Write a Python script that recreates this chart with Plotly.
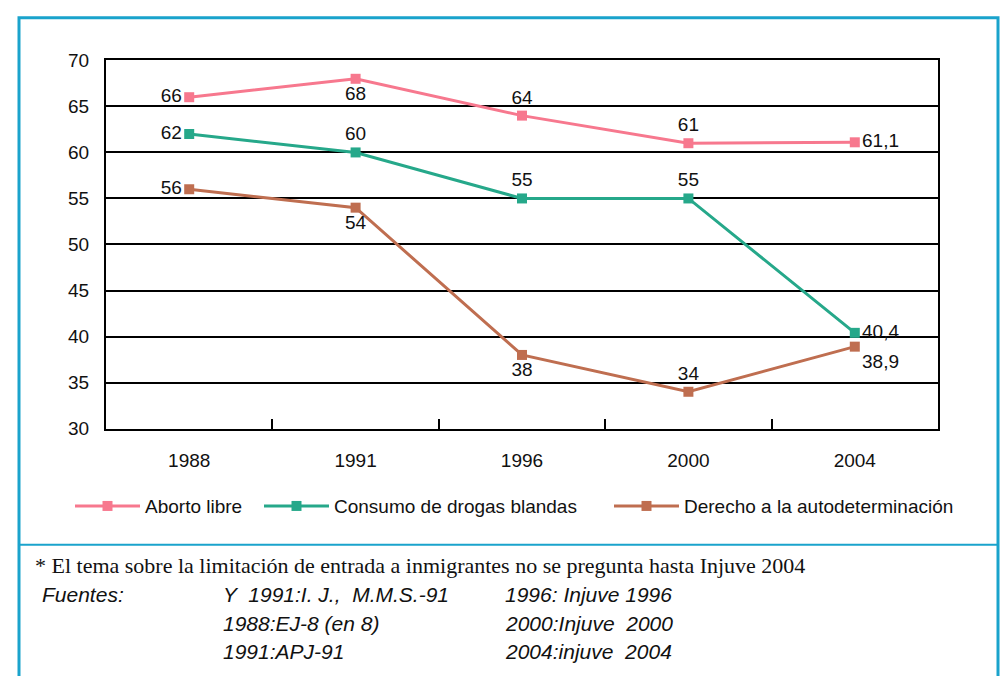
import plotly.graph_objects as go

years = ["1988", "1991", "1996", "2000", "2004"]
aborto = [66, 68, 64, 61, 61.1]
consumo = [62, 60, 55, 55, 40.4]
derecho = [56, 54, 38, 34, 38.9]
names = ["Aborto libre", "Consumo de drogas blandas", "Derecho a la autodeterminación"]
colors = ["#f7788e", "#26a88a", "#bf6e50"]
positions = [
    ["middle left", "bottom center", "top center", "top center", "middle right"],
    ["middle left", "top center", "top center", "top center", "middle right"],
    ["middle left", "bottom center", "bottom center", "top center", "bottom right"],
]
yticks = [30, 35, 40, 45, 50, 55, 60, 65, 70]

def fmt(v):
    return ("%g" % v).replace(".", ",")

W, H = 1003, 676
FS = 19
legend_ids = ["legend", "legend2", "legend3"]
legend_x = [70, 259, 609]

fig = go.Figure()
for vals, name, col, pos, lid in zip([aborto, consumo, derecho], names, colors, positions, legend_ids):
    fig.add_trace(go.Scatter(
        x=years, y=vals, name=name, mode="lines+markers+text",
        line=dict(color=col, width=3),
        marker=dict(symbol="square", size=10, color=col),
        text=[fmt(v) for v in vals], textposition=pos,
        textfont=dict(family="Arial", size=FS, color="#111"),
        cliponaxis=False, legend=lid,
    ))

x0, x1 = 106 / W, 938 / W
ytop, ybot = 1 - 52 / H, 1 - 432 / H
layout_legends = {}
for lid, lx in zip(legend_ids, legend_x):
    layout_legends[lid] = dict(orientation="h", x=lx / W, y=1 - 512 / H, xanchor="left",
                               yanchor="middle", font=dict(size=FS),
                               bgcolor="rgba(0,0,0,0)", itemwidth=65)

fig.update_layout(
    width=W, height=H, margin=dict(l=0, r=0, t=0, b=0),
    paper_bgcolor="white", plot_bgcolor="white",
    font=dict(family="Arial", size=FS, color="#111"),
    xaxis=dict(domain=[x0, x1], type="category", range=[-0.5, 4.5],
               showline=True, linecolor="black", linewidth=2, mirror=True,
               ticks="inside", ticklen=10, tickwidth=2, tickcolor="black",
               tickson="boundaries", showgrid=False, ticklabelstandoff=14,
               tickfont=dict(size=FS)),
    yaxis=dict(domain=[ybot, ytop], range=[30, 70], tickvals=yticks,
               showline=True, linecolor="black", linewidth=2, mirror=True,
               showgrid=True, gridcolor="black", gridwidth=2,
               ticks="", ticklabelstandoff=11, zeroline=False,
               tickfont=dict(size=FS)),
    showlegend=True,
    **layout_legends,
)

border = "#1aa3cc"
fig.add_shape(type="rect", xref="paper", yref="paper",
              x0=19 / W, x1=998 / W, y0=-0.05, y1=1 - 8 / H,
              line=dict(color=border, width=3), fillcolor="rgba(0,0,0,0)")
fig.add_shape(type="line", xref="paper", yref="paper",
              x0=19 / W, x1=998 / W, y0=1 - 552 / H, y1=1 - 552 / H,
              line=dict(color=border, width=2))

fig.add_annotation(xref="paper", yref="paper", x=33 / W, y=1 - 573 / H,
                   xanchor="left", yanchor="middle", showarrow=False,
                   text="* El tema sobre la limitación de entrada a inmigrantes no se pregunta hasta Injuve 2004",
                   font=dict(family="Liberation Serif", size=22, color="#111"))

fuentes_col1 = ["Fuentes:", "", ""]
fuentes_col2 = ["Y  1991:I. J.,  M.M.S.-91", "1988:EJ-8 (en 8)", "1991:APJ-91"]
fuentes_col3 = ["1996: Injuve 1996", "2000:Injuve  2000", "2004:injuve  2004"]
rows_y = [603, 633, 662]
for col_texts, xpix in [(fuentes_col1, 40), (fuentes_col2, 221), (fuentes_col3, 503)]:
    for t, yp in zip(col_texts, rows_y):
        if t:
            fig.add_annotation(xref="paper", yref="paper", x=xpix / W, y=1 - yp / H,
                               xanchor="left", yanchor="middle", showarrow=False,
                               text="<i>" + t + "</i>",
                               font=dict(family="Arial", size=21, color="#111"))

css_js = (
    "var s=document.createElement('style');"
    "s.innerHTML='html,body{margin:0;padding:0;overflow:hidden;height:676px;}';"
    "document.head.appendChild(s);"
)
fig.write_html("out.html", config={"displayModeBar": False}, post_script=css_js)
